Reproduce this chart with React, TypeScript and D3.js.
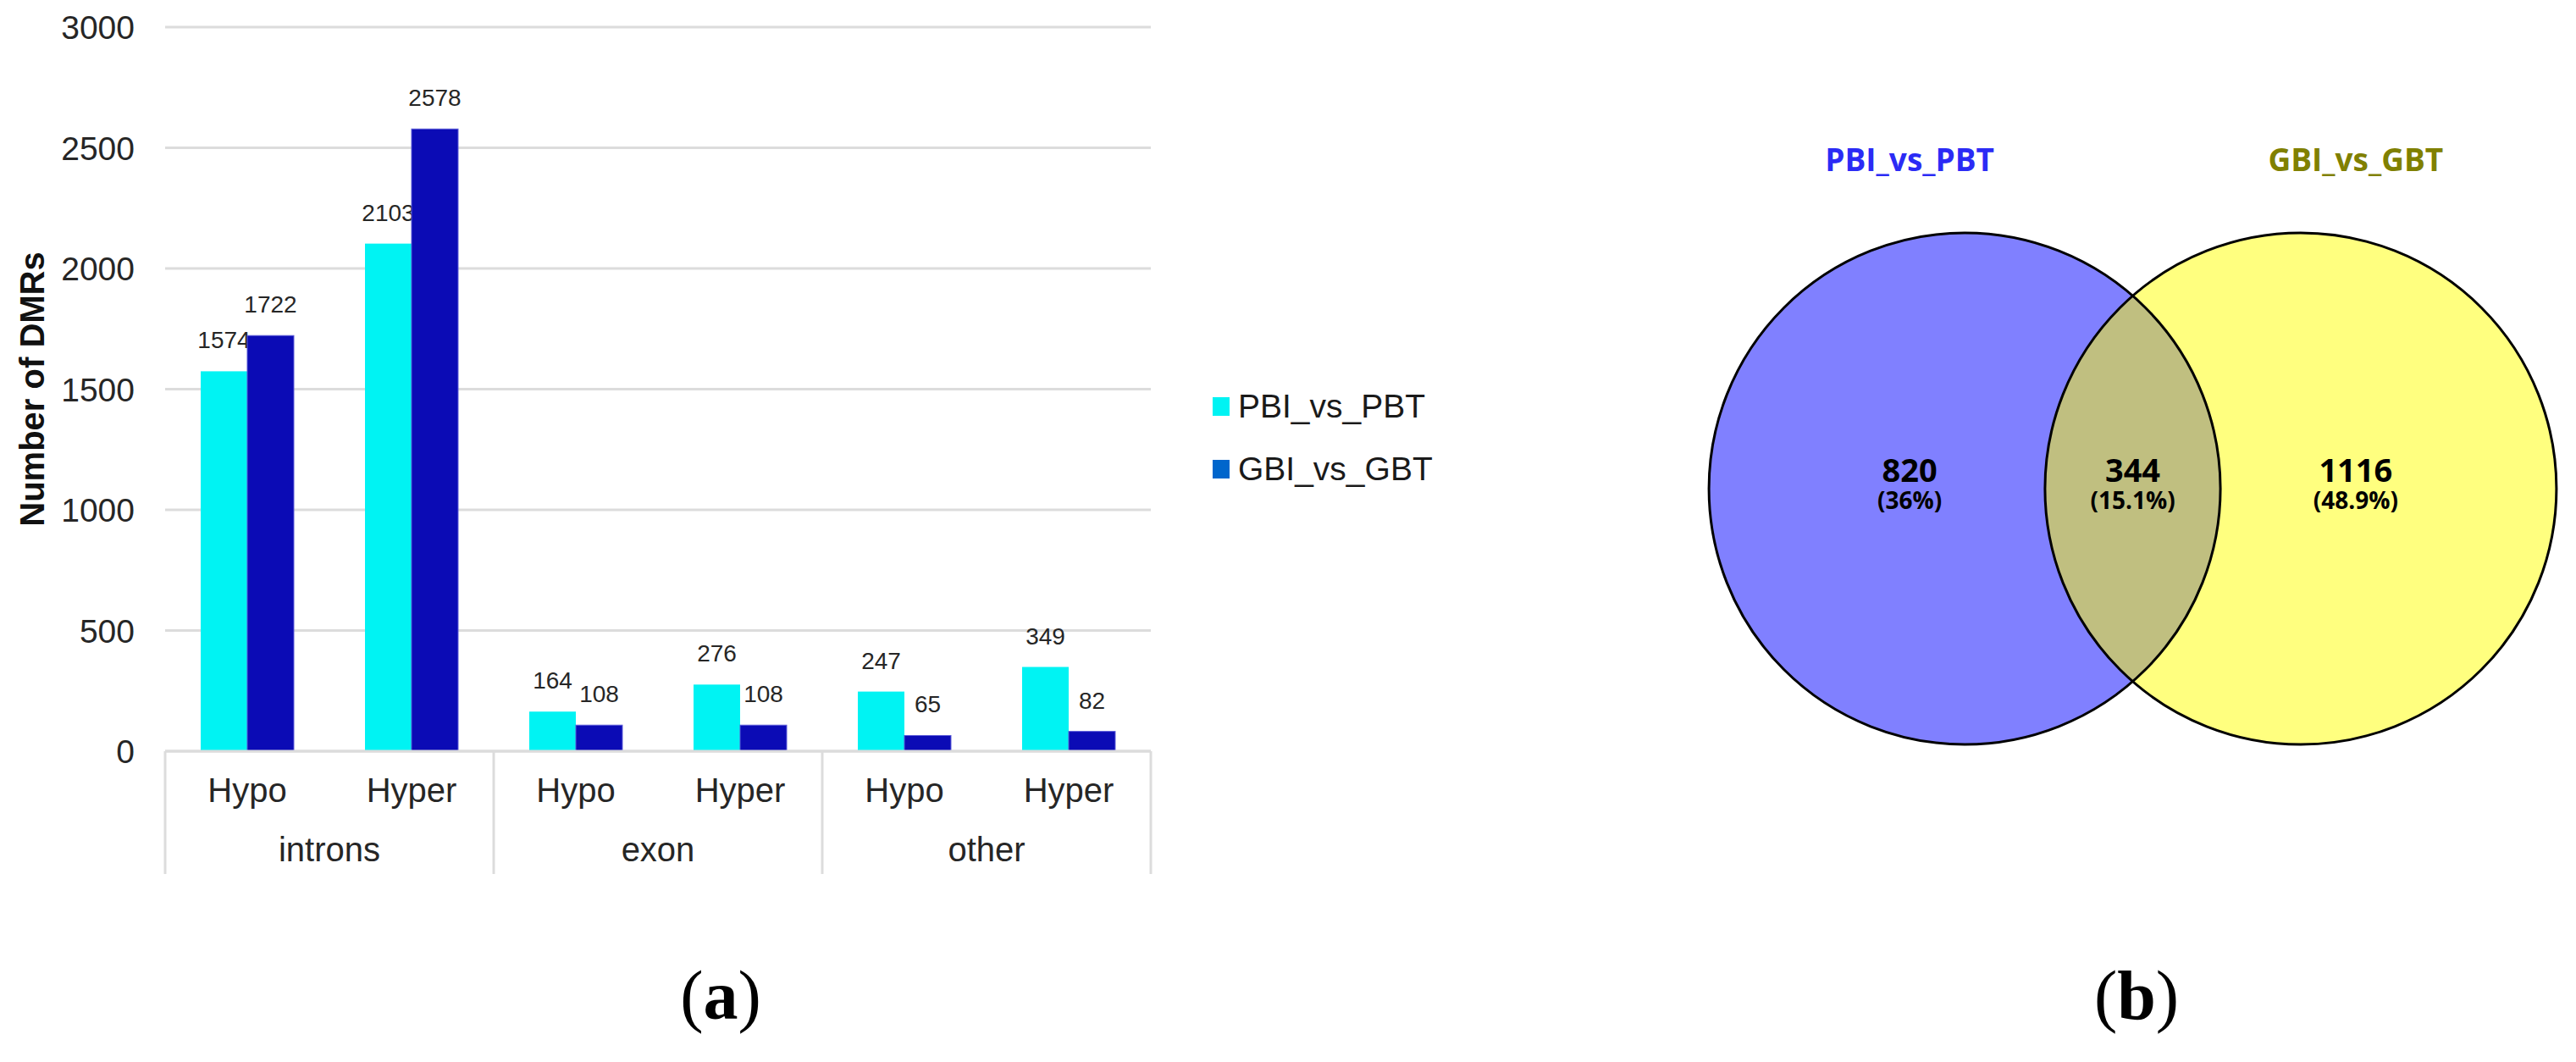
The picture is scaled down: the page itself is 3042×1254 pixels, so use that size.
import React from "react";
import * as d3 from "d3";

const groups = ["introns", "exon", "other"];
const subCategories = ["Hypo", "Hyper", "Hypo", "Hyper", "Hypo", "Hyper"];
const pbiValues = [1574, 2103, 164, 276, 247, 349];
const gbiValues = [1722, 2578, 108, 108, 65, 82];
const yTicks = [0, 500, 1000, 1500, 2000, 2500, 3000];
const seriesNames = ["PBI_vs_PBT", "GBI_vs_GBT"];
const seriesColors = ["#00F3F3", "#0B0BB5"];
const legendColors = ["#00F3F3", "#0066CC"];

const vennSets = ["PBI_vs_PBT", "GBI_vs_GBT"];
const vennTitleColors = ["#2B2BF5", "#808000"];
const vennCounts = [820, 344, 1116];
const vennPercents = ["36%", "15.1%", "48.9%"];

const W = 3042;
const H = 1254;

export default function App() {
  // ---- bar chart scales ----
  const plotLeft = 195;
  const plotRight = 1359;
  const baseY = 887;
  const topY = 32;
  const y = d3.scaleLinear().domain([0, 3000]).range([baseY, topY]);
  const idx = subCategories.map((_, i) => i);
  const x = d3.scaleBand<number>().domain(idx).range([plotLeft, plotRight]).padding(0);
  const step = x.step();
  const inner = d3
    .scaleBand<string>()
    .domain(seriesNames)
    .range([0, step])
    .paddingInner(0)
    .paddingOuter(0.764);
  const series = [pbiValues, gbiValues];

  const axisFont = "'Liberation Sans', Arial, sans-serif";
  const textColor = "#262626";
  const gridColor = "#DCDCDC";

  // ---- venn layout ----
  const vennMid = 2518.5;
  const vennCy = 577;
  const vennR = 302;
  const vx = d3.scaleLinear().domain([-1, 1]).range([vennMid - vennR, vennMid + vennR]);
  const centerOffset = 0.657;
  const labelOffset = 0.872;
  const circles = [
    { cx: vx(-centerOffset), fill: "#8080FF" },
    { cx: vx(centerOffset), fill: "#FFFF7F" },
  ];
  const labelX = [vx(-labelOffset), vx(0), vx(labelOffset)];
  const vennFont = "'Open Sans', 'Noto Sans', sans-serif";

  return (
    <svg
      width={W}
      height={H}
      viewBox={`0 0 ${W} ${H}`}
      style={{ position: "absolute", left: 0, top: 0, background: "#fff" }}
    >
      <rect x={0} y={0} width={W} height={H} fill="#fff" />
      {/* gridlines */}
      {yTicks.map((t) => (
        <line
          key={"g" + t}
          x1={plotLeft}
          x2={plotRight}
          y1={y(t)}
          y2={y(t)}
          stroke={gridColor}
          strokeWidth={3}
        />
      ))}
      {/* y tick labels */}
      {yTicks.map((t) => (
        <text
          key={"t" + t}
          x={159}
          y={y(t)}
          dy="0.36em"
          textAnchor="end"
          fontFamily={axisFont}
          fontSize={39}
          fill={textColor}
        >
          {t}
        </text>
      ))}
      {/* y axis title */}
      <text
        transform={`translate(52,${(y(0) + y(3000)) / 2}) rotate(-90)`}
        textAnchor="middle"
        fontFamily={axisFont}
        fontWeight="bold"
        fontSize={40}
        fill="#111"
      >
        Number of DMRs
      </text>

      {/* bars + labels */}
      {series.map((vals, s) => (
        <g key={"s" + s}>
          {vals.map((v, i) => {
            const bx = (x(i) as number) + (inner(seriesNames[s]) as number);
            const bw = inner.bandwidth();
            return (
              <g key={"b" + i}>
                <rect
                  x={bx}
                  y={y(v)}
                  width={bw}
                  height={y(0) - y(v)}
                  fill={seriesColors[s]}
                  stroke={s === 1 ? "#5A5AD8" : "none"}
                  strokeWidth={s === 1 ? 1 : 0}
                />
                <text
                  x={bx + bw / 2}
                  y={y(v) - 27}
                  textAnchor="middle"
                  fontFamily={axisFont}
                  fontSize={28}
                  fill={textColor}
                >
                  {v}
                </text>
              </g>
            );
          })}
        </g>
      ))}

      {/* category axis */}
      <line x1={plotLeft} x2={plotRight} y1={baseY} y2={baseY} stroke={gridColor} strokeWidth={3} />
      {groups.map((g, gi) => {
        const x0 = x(gi * 2) as number;
        return (
          <line
            key={"sep" + gi}
            x1={x0}
            x2={x0}
            y1={baseY}
            y2={1032}
            stroke={gridColor}
            strokeWidth={3}
          />
        );
      })}
      <line x1={plotRight} x2={plotRight} y1={baseY} y2={1032} stroke={gridColor} strokeWidth={3} />
      {subCategories.map((c, i) => (
        <text
          key={"c" + i}
          x={(x(i) as number) + step / 2}
          y={947}
          textAnchor="middle"
          fontFamily={axisFont}
          fontSize={40}
          fill={textColor}
        >
          {c}
        </text>
      ))}
      {groups.map((g, gi) => (
        <text
          key={"grp" + gi}
          x={(x(gi * 2) as number) + step}
          y={1017}
          textAnchor="middle"
          fontFamily={axisFont}
          fontSize={40}
          fill={textColor}
        >
          {g}
        </text>
      ))}

      {/* legend */}
      {seriesNames.map((n, i) => (
        <g key={"l" + i} transform={`translate(1432,${469 + i * 74})`}>
          <rect x={0} y={0} width={20} height={22} fill={legendColors[i]} />
          <text x={30} y={24} fontFamily={axisFont} fontSize={39} fill="#1a1a1a">
            {n}
          </text>
        </g>
      ))}

      {/* panel labels */}
      <text x={851} y={1203} textAnchor="middle" fontFamily="'Liberation Serif', 'Times New Roman', serif" fontSize={82} fill="#000">
        (<tspan fontWeight="bold">a</tspan>)
      </text>
      <text x={2523} y={1203} textAnchor="middle" fontFamily="'Liberation Serif', 'Times New Roman', serif" fontSize={82} fill="#000">
        (<tspan fontWeight="bold">b</tspan>)
      </text>

      {/* venn */}
      <defs>
        <clipPath id="leftClip">
          <circle cx={circles[0].cx} cy={vennCy} r={vennR} />
        </clipPath>
      </defs>
      {circles.map((c, i) => (
        <circle key={"vc" + i} cx={c.cx} cy={vennCy} r={vennR} fill={c.fill} />
      ))}
      <circle cx={circles[1].cx} cy={vennCy} r={vennR} fill="#C0BF80" clipPath="url(#leftClip)" />
      {circles.map((c, i) => (
        <circle key={"vs" + i} cx={c.cx} cy={vennCy} r={vennR} fill="none" stroke="#000" strokeWidth={3} />
      ))}
      {vennSets.map((s, i) => (
        <text
          key={"vt" + i}
          x={i === 0 ? labelX[0] : labelX[2]}
          y={202}
          textAnchor="middle"
          fontFamily={vennFont}
          fontWeight="bold"
          fontSize={37}
          fill={vennTitleColors[i]}
        >
          {s}
        </text>
      ))}
      {vennCounts.map((c, i) => (
        <g key={"vn" + i}>
          <text
            x={labelX[i]}
            y={569}
            textAnchor="middle"
            fontFamily={vennFont}
            fontWeight="bold"
            fontSize={38}
            fill="#000"
          >
            {c}
          </text>
          <text
            x={labelX[i]}
            y={601}
            textAnchor="middle"
            fontFamily={vennFont}
            fontWeight="bold"
            fontSize={28}
            fill="#000"
          >
            ({vennPercents[i]})
          </text>
        </g>
      ))}
    </svg>
  );
}
